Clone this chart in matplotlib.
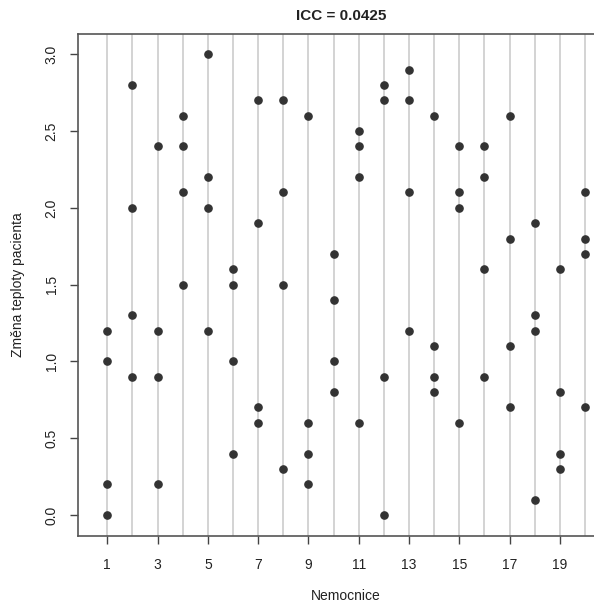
import matplotlib.pyplot as plt
import numpy as np

plt.rcParams['font.family'] = ['Liberation Sans', 'DejaVu Sans']

# hodnoty: 4 pacienti v každé nemocnici
nemocnice = np.arange(1, 21)
zmena = [
    [1.2, 1.0, 0.2, 0.0],
    [2.8, 2.0, 1.3, 0.9],
    [2.4, 1.2, 0.9, 0.2],
    [2.6, 2.4, 2.1, 1.5],
    [3.0, 2.2, 2.0, 1.2],
    [1.6, 1.5, 1.0, 0.4],
    [2.7, 1.9, 0.7, 0.6],
    [2.7, 2.1, 1.5, 0.3],
    [2.6, 0.6, 0.4, 0.2],
    [1.7, 1.4, 1.0, 0.8],
    [2.5, 2.4, 2.2, 0.6],
    [2.8, 2.7, 0.9, 0.0],
    [2.9, 2.7, 2.1, 1.2],
    [2.6, 1.1, 0.9, 0.8],
    [2.4, 2.1, 2.0, 0.6],
    [2.4, 2.2, 1.6, 0.9],
    [2.6, 1.8, 1.1, 0.7],
    [1.9, 1.3, 1.2, 0.1],
    [1.6, 0.8, 0.4, 0.3],
    [2.1, 1.8, 1.7, 0.7],
]
icc = 0.0425

fig = plt.figure(figsize=(5.94, 6.03), dpi=100)
ax = fig.add_axes([78 / 594, 67 / 603, 536 / 594, 502 / 603])

for x in nemocnice:
    ax.axvline(x, color='#cccccc', lw=1.2, zorder=1)

for x, hodnoty in zip(nemocnice, zmena):
    ax.plot([x] * len(hodnoty), hodnoty, 'o', color='#333333', ms=5.2, zorder=3)

ax.set_xlim(-0.165, 21.15)
ax.set_ylim(-0.137, 3.132)
ax.set_xticks(nemocnice[::2])
ax.set_yticks(np.arange(0, 3.01, 0.5))
ax.set_yticklabels([f'{v:.1f}' for v in np.arange(0, 3.01, 0.5)], rotation=90, va='center')
ax.tick_params(axis='both', direction='out', length=6, width=1, color='#444444',
               labelsize=10, labelcolor='#222222')
ax.tick_params(axis='x', pad=10)
ax.tick_params(axis='y', pad=8)
for s in ax.spines.values():
    s.set_color('#555555')
    s.set_linewidth(1.2)

ax.set_xlabel('Nemocnice', fontsize=10, color='#222222', labelpad=12)
ax.set_ylabel('Změna teploty pacienta', fontsize=10, color='#222222', labelpad=14)
fig.text(341 / 594, 1 - 16 / 603, f'ICC = {icc}', ha='center', va='center',
         fontsize=11, fontweight='bold', color='#222222')

fig.savefig('out.png', dpi=100)
